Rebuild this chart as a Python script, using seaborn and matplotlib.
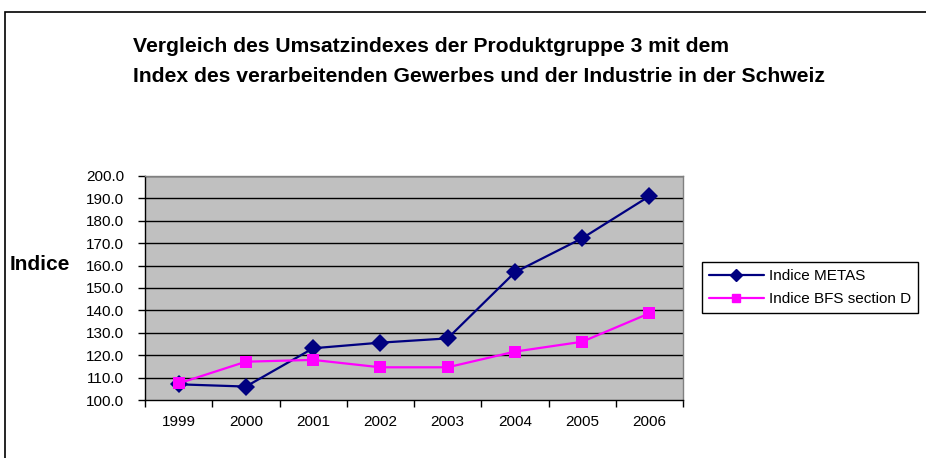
import matplotlib
matplotlib.use("Agg")
import matplotlib.pyplot as plt
import seaborn as sns
import pandas as pd
import numpy as np
from matplotlib.patches import Rectangle
from matplotlib.lines import Line2D

years = ["1999", "2000", "2001", "2002", "2003", "2004", "2005", "2006"]
metas = [107.0, 106.0, 123.1, 125.6, 127.5, 157.0, 172.2, 191.0]
bfs = [107.4, 117.1, 117.9, 114.6, 114.6, 121.6, 126.0, 138.7]
series_names = ["Indice METAS", "Indice BFS section D"]
title_lines = ["Vergleich des Umsatzindexes der Produktgruppe 3 mit dem",
               "Index des verarbeitenden Gewerbes und der Industrie in der Schweiz"]
y_label = "Indice"
y_ticks = [100, 110, 120, 130, 140, 150, 160, 170, 180, 190, 200]

sns.set_theme(style="white")
plt.rcParams['font.family'] = ['Liberation Sans', 'DejaVu Sans']
plt.rcParams['text.color'] = 'black'
plt.rcParams['xtick.color'] = 'black'
plt.rcParams['ytick.color'] = 'black'
plt.rcParams['xtick.labelcolor'] = 'black'
plt.rcParams['ytick.labelcolor'] = 'black'

W, H = 926, 458
fig = plt.figure(figsize=(W / 100, H / 100), dpi=100)
fig.patch.set_facecolor("white")

# outer chart frame
fig.patches.append(Rectangle((5 / W, -0.1), 1.2, 1 - 12 / H + 0.1, transform=fig.transFigure,
                             fill=False, edgecolor="black", linewidth=1.2))

ax = fig.add_axes([145 / W, 1 - 400 / H, (683 - 145) / W, (400 - 176) / H])
ax.set_facecolor("#C0C0C0")

df = pd.DataFrame({
    "pos": list(range(len(years))) * 2,
    "value": metas + bfs,
    "series": [series_names[0]] * len(years) + [series_names[1]] * len(years),
})

sns.lineplot(data=df, x="pos", y="value", hue="series", style="series",
             palette={series_names[0]: "#000080", series_names[1]: "#FF00FF"},
             markers={series_names[0]: "D", series_names[1]: "s"},
             dashes=False, markersize=9, linewidth=1.6, markeredgewidth=0,
             ax=ax, legend=False)

ax.set_xlim(-0.5, len(years) - 0.5)
ax.set_ylim(100, 200)
ax.set_yticks(y_ticks)
ax.set_yticklabels([f"{v:.1f}" for v in y_ticks], fontsize=11)
for v in y_ticks[1:]:
    ax.axhline(v, color="black", linewidth=1.0, zorder=0.5)

ax.set_xticks(np.arange(-0.5, len(years), 1.0))
ax.set_xticklabels([])
ax.set_xticks(range(len(years)), minor=True)
ax.set_xticklabels(years, minor=True, fontsize=11)
ax.tick_params(axis="x", which="major", length=5, width=1, color="black", direction="out", bottom=True)
ax.tick_params(axis="x", which="minor", length=0, pad=11, bottom=True)
ax.tick_params(axis="y", length=5, width=1, color="black", direction="out", left=True, pad=10)
ax.set_xlabel("")
ax.set_ylabel("")

for s in ["left", "bottom"]:
    ax.spines[s].set_color("black")
    ax.spines[s].set_linewidth(1.0)
for s in ["top", "right"]:
    ax.spines[s].set_color("#808080")
    ax.spines[s].set_linewidth(1.0)

fig.text(133 / W, 1 - 47 / H, title_lines[0], fontsize=15.2, fontweight="bold", ha="left", va="center")
fig.text(133 / W, 1 - 77 / H, title_lines[1], fontsize=15.2, fontweight="bold", ha="left", va="center")
fig.text(10 / W, 1 - 265 / H, y_label, fontsize=15, fontweight="bold", ha="left", va="center")

# legend
handles = [Line2D([], [], color="#000080", marker="D", markersize=6, linewidth=1.6),
           Line2D([], [], color="#FF00FF", marker="s", markersize=6, linewidth=1.6)]
leg = fig.legend(handles, series_names, loc="upper left",
                 bbox_to_anchor=(702 / W, 1 - 262 / H), fontsize=11,
                 frameon=True, fancybox=False, framealpha=1, edgecolor="black",
                 handlelength=3.6, handletextpad=0.35, borderpad=0.45, labelspacing=0.6,
                 borderaxespad=0)
leg.get_frame().set_linewidth(1.0)

fig.savefig("out.png", dpi=100)
